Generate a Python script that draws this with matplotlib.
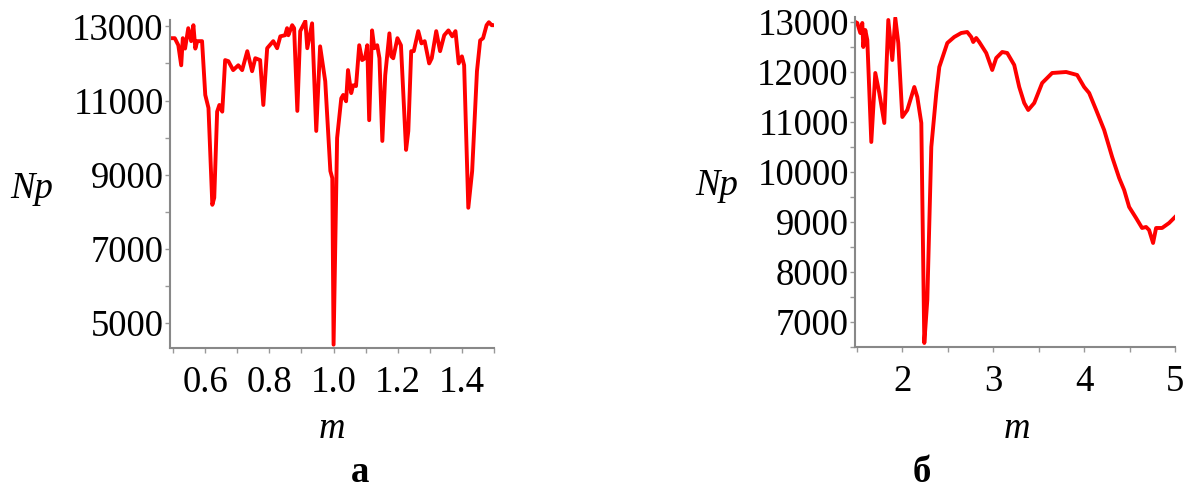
import matplotlib
matplotlib.use("Agg")
import matplotlib.pyplot as plt
from matplotlib.ticker import MultipleLocator

plt.rcParams['font.family'] = ['Liberation Serif', 'DejaVu Serif']

# panel a: m in (0.5, 1.5)
m_a = [0.497, 0.505, 0.516, 0.525, 0.530, 0.537, 0.547, 0.556, 0.563, 0.569,
       0.575, 0.590, 0.600, 0.610, 0.622, 0.628, 0.637, 0.644, 0.653, 0.662,
       0.672, 0.687, 0.703, 0.715, 0.731, 0.746, 0.756, 0.771, 0.781, 0.793,
       0.812, 0.824, 0.834, 0.849, 0.855, 0.859, 0.871, 0.877, 0.887, 0.896,
       0.912, 0.918, 0.933, 0.946, 0.958, 0.974, 0.990, 0.996, 1.000, 1.011,
       1.024, 1.030, 1.039, 1.045, 1.055, 1.061, 1.070, 1.080, 1.089, 1.098,
       1.105, 1.111, 1.120, 1.127, 1.136, 1.143, 1.152, 1.161, 1.174, 1.180,
       1.186, 1.199, 1.210, 1.226, 1.233, 1.242, 1.250, 1.264, 1.274, 1.284,
       1.298, 1.306, 1.320, 1.332, 1.345, 1.358, 1.370, 1.380, 1.390, 1.400,
       1.407, 1.420, 1.432, 1.447, 1.457, 1.466, 1.477, 1.484, 1.493, 1.497]
np_a = [12680, 12680, 12490, 11950, 12680, 12400, 12950, 12600, 13030, 12400,
        12600, 12600, 11150, 10800, 8190, 8380, 10700, 10880, 10700, 12090,
        12060, 11820, 11950, 11820, 12330, 11790, 12140, 12090, 10880, 12410,
        12600, 12410, 12730, 12760, 12950, 12760, 13030, 12950, 10720, 12870,
        13140, 12410, 13080, 10180, 12460, 11520, 9100, 8910, 4420, 9990,
        11060, 11150, 10980, 11820, 11200, 11410, 11390, 12490, 12090, 12140,
        12490, 10470, 12890, 12410, 12490, 12140, 9910, 11680, 12810, 12190,
        12140, 12680, 12490, 9670, 10180, 12330, 12330, 12870, 12540, 12600,
        12000, 12140, 12870, 12330, 12760, 12890, 12730, 12870, 12000, 12190,
        11950, 8110, 9100, 11790, 12620, 12680, 13030, 13110, 13030, 13030]

# panel b: m in (1.5, 5)
m_b = [1.484, 1.505, 1.538, 1.560, 1.571, 1.593, 1.615, 1.659, 1.703, 1.747,
       1.802, 1.846, 1.890, 1.923, 1.956, 2.000, 2.055, 2.132, 2.165, 2.209,
       2.242, 2.275, 2.319, 2.374, 2.407, 2.495, 2.571, 2.648, 2.714, 2.758,
       2.780, 2.813, 2.846, 2.923, 2.989, 3.033, 3.099, 3.154, 3.231, 3.286,
       3.341, 3.385, 3.451, 3.538, 3.648, 3.802, 3.923, 4.000, 4.055, 4.132,
       4.220, 4.308, 4.385, 4.440, 4.495, 4.571, 4.637, 4.681, 4.714, 4.758,
       4.791, 4.857, 4.934, 5.000]
np_b = [13000, 12980, 12780, 12980, 12500, 12840, 12640, 10600, 11980, 11580,
        10980, 13040, 12240, 13080, 12580, 11100, 11240, 11700, 11500, 10980,
        6580, 7440, 10500, 11580, 12100, 12580, 12700, 12780, 12800, 12700,
        12600, 12680, 12600, 12380, 12040, 12280, 12400, 12380, 12140, 11700,
        11380, 11240, 11380, 11780, 11980, 12000, 11940, 11700, 11580, 11240,
        10840, 10300, 9880, 9640, 9300, 9080, 8880, 8900, 8840, 8580,
        8880, 8880, 8980, 9100]

fig = plt.figure(figsize=(11.92, 4.94), dpi=100)
ax1 = fig.add_axes([0.1426, 0.2955, 0.2718, 0.664])
ax2 = fig.add_axes([0.7173, 0.2976, 0.2685, 0.668])

fs = 26.5
for ax in (ax1, ax2):
    for s in ('top', 'right'):
        ax.spines[s].set_visible(False)
    for s in ('left', 'bottom'):
        ax.spines[s].set_color('#888888')
        ax.spines[s].set_linewidth(1.5)
    ax.tick_params(which='both', direction='out', length=3.5, width=1,
                   color='#999999', labelsize=fs)
    ax.tick_params(axis='y', pad=1)
    ax.tick_params(axis='x', pad=9)

ax1.plot(m_a, np_a, color='#ff0000', lw=2.8, solid_joinstyle='round')
ax1.set_xlim(0.49, 1.5)
ax1.set_ylim(4330, 13170)
ax1.set_xticks([0.6, 0.8, 1.0, 1.2, 1.4])
ax1.set_xticklabels(['0.6', '0.8', '1.0', '1.2', '1.4'])
ax1.xaxis.set_minor_locator(MultipleLocator(0.1))
ax1.set_yticks([5000, 7000, 9000, 11000, 13000])
ax1.yaxis.set_minor_locator(MultipleLocator(1000))

ax2.plot(m_b, np_b, color='#ff0000', lw=2.8, solid_joinstyle='round')
ax2.set_xlim(1.48, 5.0)
ax2.set_ylim(6500, 13100)
ax2.set_xticks([2, 3, 4, 5])
ax2.xaxis.set_minor_locator(MultipleLocator(0.5))
ax2.set_yticks([7000, 8000, 9000, 10000, 11000, 12000, 13000])
ax2.yaxis.set_minor_locator(MultipleLocator(500))

fig.text(0.027, 0.599, 'Np', style='italic', fontsize=fs, ha='center', va='baseline')
fig.text(0.601, 0.605, 'Np', style='italic', fontsize=fs, ha='center', va='baseline')
fig.text(0.2785, 0.113, 'm', style='italic', fontsize=fs, ha='center', va='baseline')
fig.text(0.853, 0.113, 'm', style='italic', fontsize=fs, ha='center', va='baseline')
fig.text(0.302, 0.024, 'а', weight='bold', fontsize=fs, ha='center', va='baseline')
fig.text(0.773, 0.024, 'б', weight='bold', fontsize=fs, ha='center', va='baseline')

fig.savefig('out.png', dpi=100)
